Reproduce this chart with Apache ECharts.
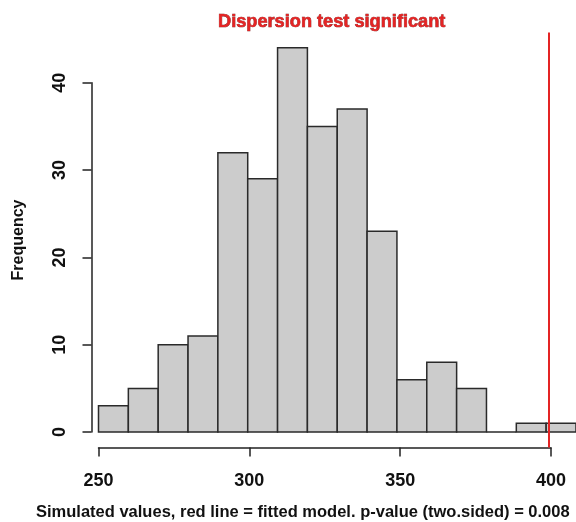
<!DOCTYPE html>
<html>
<head>
<meta charset="utf-8">
<script src="https://cdn.jsdelivr.net/npm/echarts@6/dist/echarts.min.js"></script>
<style>
html,body{margin:0;padding:0;background:#fff;}
#chart{width:576px;height:522px;}
</style>
</head>
<body>
<div id="chart"></div>
<script>
/* histogram of simulated dispersion values, R hist() look */
var binStart = [250,260,270,280,290,300,310,320,330,340,350,360,370,380,390,400];
var binWidth = 10;
var counts   = [3,5,10,11,32,29,44,35,37,23,6,8,5,0,1,1];
var observed = 401;
var xTicks   = [250,300,350,400];
var yTicks   = [0,10,20,30,40];
var titleText = "Dispersion test significant";
var xLabText  = "Simulated values, red line = fitted model. p-value (two.sided) = 0.008";
var yLabText  = "Frequency";

var FONT = "'Liberation Sans',Arial,sans-serif";
var RED = "#e42424";

var bars = binStart.map(function(s,i){ return [s, s+binWidth, counts[i]]; });

var ch = echarts.init(document.getElementById("chart"), null, {renderer:"canvas"});
ch.setOption({
  animation:false,
  backgroundColor:"#ffffff",
  title:[
    { text:titleText, left:213, top:8,
      textStyle:{color:RED, fontFamily:FONT, fontSize:18.2, fontWeight:"bold",
        textBorderColor:"#7a1010", textBorderWidth:0.6} },
    { text:xLabText, left:31, top:499,
      textStyle:{color:"#111", fontFamily:FONT, fontSize:16.5, fontWeight:"bold"} }
  ],
  grid:[
    { left:98.5, top:32.5, width:482.7, height:414.9 },   /* plot region */
    { left:91.5, top:82.8, width:10, height:349.2 },      /* y axis 0..40 */
    { left:98.5, top:437, width:452.5, height:10.5 }      /* x axis 250..400 */
  ],
  xAxis:[
    { gridIndex:0, type:"value", min:250, max:410, show:false },
    { gridIndex:1, type:"value", min:0, max:1, show:false },
    { gridIndex:2, type:"value", min:250, max:400, interval:50,
      axisLine:{show:true, lineStyle:{color:"#222", width:1.5}},
      axisTick:{show:true, length:9, lineStyle:{color:"#222", width:1.5}},
      axisLabel:{color:"#111", fontFamily:FONT, fontSize:18, fontWeight:"bold", margin:25,
        formatter:function(v){ return xTicks.indexOf(v)>=0 ? String(v) : ""; }},
      splitLine:{show:false} }
  ],
  yAxis:[
    { gridIndex:0, type:"value", min:-1.76, max:45.76,
      axisLine:{show:false}, axisTick:{show:false}, axisLabel:{show:false}, splitLine:{show:false},
      name:yLabText, nameLocation:"middle", nameGap:72, nameRotate:90,
      nameTextStyle:{color:"#111", fontFamily:FONT, fontSize:16, fontWeight:"bold"} },
    { gridIndex:1, type:"value", min:0, max:40, interval:10,
      axisLine:{show:true, lineStyle:{color:"#222", width:1.5}},
      axisTick:{show:true, length:9, lineStyle:{color:"#222", width:1.5}},
      axisLabel:{color:"#111", fontFamily:FONT, fontSize:18, fontWeight:"bold", rotate:90, margin:22,
        formatter:function(v){ return yTicks.indexOf(v)>=0 ? String(v) : ""; }},
      splitLine:{show:false} },
    { gridIndex:2, type:"value", show:false }
  ],
  series:[{
    type:"custom",
    xAxisIndex:0, yAxisIndex:0,
    clip:false,
    data:bars,
    renderItem:function(params, api){
      var p0 = api.coord([api.value(0), 0]);
      var p1 = api.coord([api.value(1), api.value(2)]);
      return {
        type:"rect",
        shape:{ x:p0[0], y:p1[1], width:p1[0]-p0[0], height:p0[1]-p1[1] },
        style:{ fill:"#cccccc", stroke:"#2a2a2a", lineWidth:1.5 }
      };
    },
    markLine:{
      silent:true, symbol:"none",
      label:{show:false},
      lineStyle:{color:RED, width:2, type:"solid"},
      data:[{ xAxis:observed }]
    }
  }]
});
</script>
</body>
</html>
